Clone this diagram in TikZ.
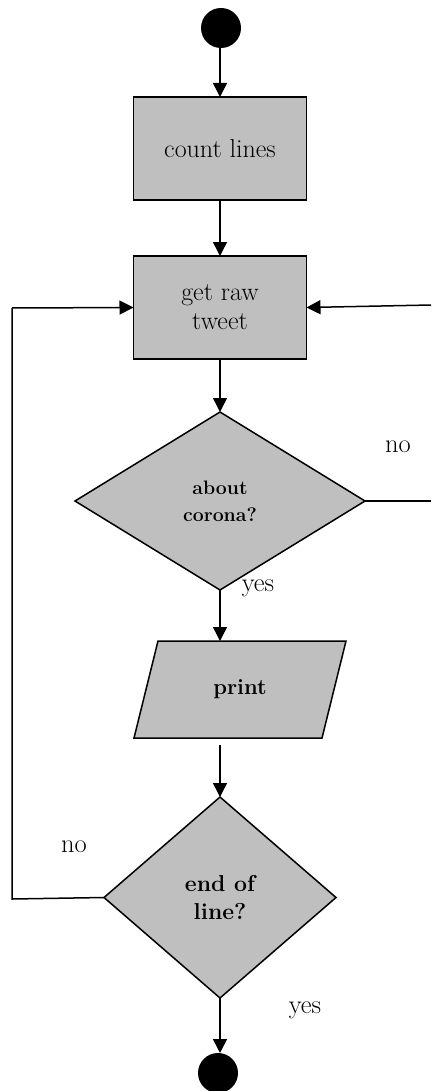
\documentclass[tikz,border=0pt]{standalone}
\usetikzlibrary{shapes.geometric,arrows.meta,calc}
\definecolor{boxgray}{HTML}{BFBFBF}
\tikzset{
  conn/.style={line width=1.5pt,-{Triangle[length=14pt,width=14pt]}},
  plain/.style={line width=1.5pt},
  procbox/.style={rectangle,draw,line width=1.6pt,fill=boxgray,minimum width=173pt,minimum height=103pt,inner sep=0pt,outer sep=0pt,align=center,font=\fontsize{26}{29}\selectfont},
  decbox/.style={diamond,draw,line width=1.5pt,fill=boxgray,inner sep=0pt,outer sep=0pt,align=center},
  terminal/.style={circle,fill=black,minimum size=40pt,inner sep=0pt,outer sep=0pt},
  lbl/.style={font=\fontsize{26.5}{29}\selectfont,inner sep=0pt}
}
\begin{document}
\begin{tikzpicture}[x=1pt,y=-1pt]
\useasboundingbox (0,0) rectangle (431,1091);
\node[terminal] (start) at (221,28) {};
\node[procbox] (count) at (220,148.5) {count lines};
\node[procbox] (get) at (220,307.5) {get raw\\tweet};
\node[decbox,minimum width=290pt,minimum height=178pt,font=\bfseries\fontsize{19.5}{27}\selectfont] (d1) at (220,501) {about\\corona?};
\node[minimum width=212pt,minimum height=97pt,inner sep=0pt,outer sep=0pt] (p) at (240,689.5) {};
\fill[boxgray] ($(p.south west)$) -- ($(p.north west)+(24,0)$) -- (p.north east) -- ($(p.south east)-(24,0)$) -- cycle;
\draw[line width=1.5pt,line join=miter] ($(p.south west)$) -- ($(p.north west)+(24,0)$) -- (p.north east) -- ($(p.south east)-(24,0)$) -- cycle;
\node[font=\bfseries\fontsize{22}{26}\selectfont,inner sep=0pt] (ptext) at (p.center) {print};
\node[decbox,minimum width=232pt,minimum height=201pt,font=\bfseries\fontsize{23}{28.5}\selectfont] (d2) at (220,897.5) {end of\\line?};
\node[terminal] (end) at (218,1073) {};

\coordinate (rA) at (431,305);
\coordinate (rB) at (431,501);
\coordinate (lA) at (12,899);
\coordinate (lB) at (12,308);

\draw[conn] (start.south -| count.north) -- (count.north);
\draw[conn] (count.south) -- (get.north);
\draw[conn] (get.south) -- (d1.north);
\draw[conn] (d1.south) -- (d1.south |- p.north);
\draw[conn,shorten <=7pt] (d1.south |- p.south) -- (d2.north);
\draw[conn] (d2.south) -- (d2.south |- end.north);
\draw[plain] (d1.east) -- (rB);
\draw[conn] (rA) -- (get.east);
\draw[plain,line join=miter] (d2.west) -- (lA) -- (lB);
\draw[conn] (lB) -- (get.west);

\node[lbl] (no1) at (398,447) {no};
\node[lbl] (yes1) at (258,588) {yes};
\node[lbl] (no2) at (74,847) {no};
\node[lbl] (yes2) at (305,1010) {yes};
\end{tikzpicture}
\end{document}
